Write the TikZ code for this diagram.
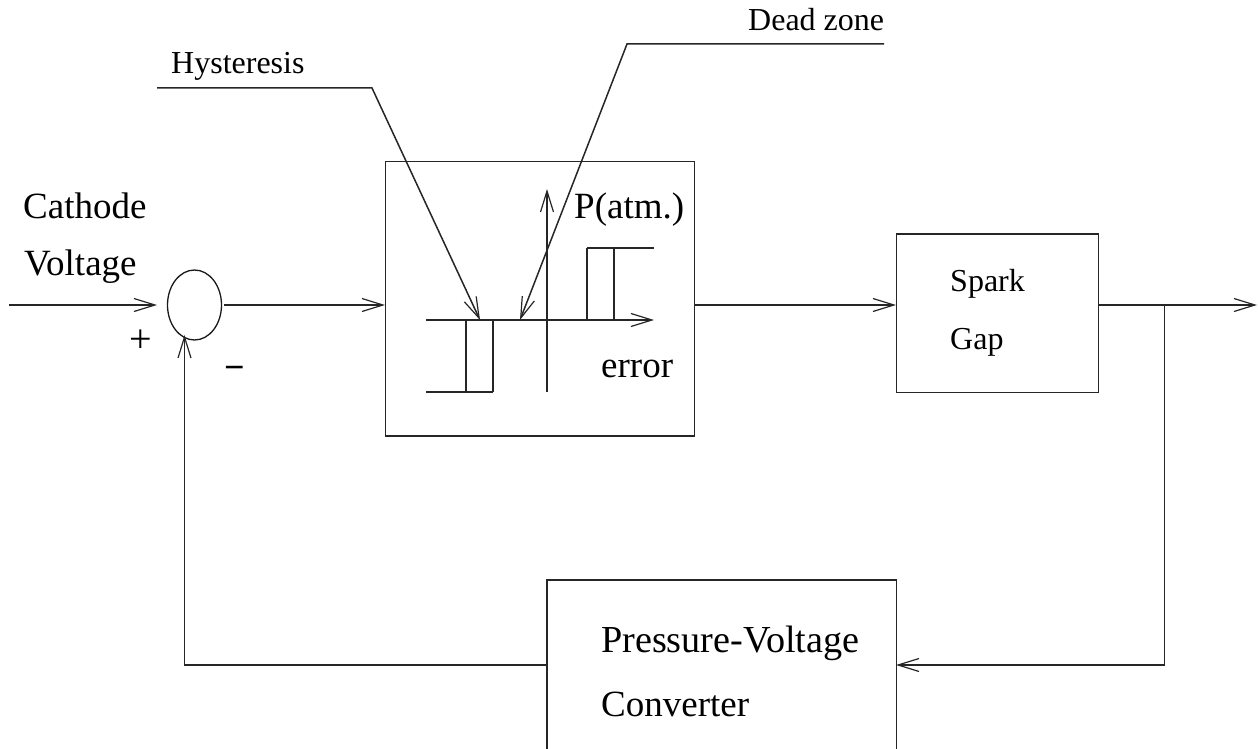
\documentclass[tikz,border=0pt]{standalone}
\usepackage{fontspec}
\setmainfont{Liberation Serif}
\usetikzlibrary{arrows.meta,shapes.geometric}
\tikzset{
  x=1pt,y=-1pt,
  wire/.style={line width=1.5pt,black!85},
  flow/.style={wire,-{Straight Barb[length=21pt,width=13pt,line width=1.2pt]}},
  box/.style={draw,line width=1.5pt,black!85,inner sep=0pt,anchor=north west},
  lab/.style={inner sep=0pt,anchor=base west,text=black},
  big/.style={lab,font=\fontsize{37}{37}\selectfont},
  mid/.style={lab,font=\fontsize{32}{32}\selectfont},
}
\begin{document}
\begin{tikzpicture}
\useasboundingbox (0,0) rectangle (1258,749);
% blocks
\node[box,minimum width=309pt,minimum height=274.5pt] (ctrl) at (384.6,160.5) {};
\node[box,minimum width=202pt,minimum height=158.6pt] (gap) at (895.6,233) {};
\node[draw,line width=1.3pt,black!90,ellipse,inner sep=0pt,minimum width=54pt,minimum height=70pt] (sum) at (194.5,305) {};
% open-bottomed converter block, cut by the page edge
\node[inner sep=0pt,anchor=north west,minimum width=349pt,minimum height=169pt] (conv) at (547,580) {};
\draw[wire] (conv.south west) -- (conv.north west) -- (conv.north east) -- (conv.south east);
% coordinates
\coordinate (in) at (9,305);
\coordinate (sumin) at (157,305);
\coordinate (sumout) at (224,305);
\coordinate (ctrlin) at (385,305);
\coordinate (ctrlout) at (694,305);
\coordinate (gapin) at (896,305);
\coordinate (gapout) at (1098,305);
\coordinate (out) at (1257,305);
\coordinate (tap) at (1164.5,305);
\coordinate (fbcorner) at (1164.5,665);
\coordinate (convin) at (896,665);
\coordinate (convout) at (547,665);
\coordinate (fbleft) at (184.5,665);
\coordinate (sumfb) at (184.5,335);
% signal path
\draw[flow] (in) -- (sumin);
\draw[flow] (sumout) -- (ctrlin);
\draw[flow] (ctrlout) -- (gapin);
\draw[flow] (gapout) -- (out);
\draw[flow] (tap) -- (fbcorner) -- (convin);
\draw[flow] (convout) -- (fbleft) -- (sumfb);
% characteristic
\coordinate (xa) at (426,320);
\coordinate (xb) at (654,320);
\coordinate (ya) at (547,392);
\coordinate (yb) at (547,189);
\coordinate (la) at (466,320);
\coordinate (lb) at (493,320);
\coordinate (lc) at (493,392);
\coordinate (ld) at (466,392);
\coordinate (le) at (426,392);
\coordinate (ra) at (587,320);
\coordinate (rb) at (587,248);
\coordinate (rc) at (614,248);
\coordinate (rd) at (614,320);
\coordinate (re) at (654,248);
\draw[flow] (xa) -- (xb);
\draw[flow] (ya) -- (yb);
\draw[wire] (la) -- (ld) (lb) -- (lc) (le) -- (lc);
\draw[wire] (ra) -- (rb) (rd) -- (rc) (rb) -- (re);
\draw[wire,line width=1.8pt] (la) -- (lb) (ra) -- (rd);
% callouts
\coordinate (ha) at (157,88);
\coordinate (hb) at (372,88);
\coordinate (hc) at (480,320);
\coordinate (da) at (884,44);
\coordinate (db) at (627,44);
\coordinate (dc) at (520,320);
\draw[flow] (ha) -- (hb) -- (hc);
\draw[flow] (da) -- (db) -- (dc);
% labels
\node[big] (t1) at (23,218) {Cathode};
\node[big] (t2) at (24,275) {Voltage};
\node[big] (t3) at (574,218) {P(atm.)};
\node[big] (t4) at (601,377) {error};
\node[big,font=\fontsize{38.2}{38.2}\selectfont] (t5) at (601,652) {Pressure-Voltage};
\node[big] (t6) at (601,716) {Converter};
\node[mid] (t7) at (950,291) {Spark};
\node[mid] (t8) at (950,349) {Gap};
\node[mid] (t9) at (171,74) {Hysteresis};
\node[mid] (t10) at (748,31) {Dead zone};
\node[lab,font=\fontsize{40}{40}\selectfont] (plus) at (129,352) {+};
\node[lab,font=\fontsize{36}{36}\bfseries\selectfont] (minus) at (224,379) {−};
\end{tikzpicture}
\end{document}
